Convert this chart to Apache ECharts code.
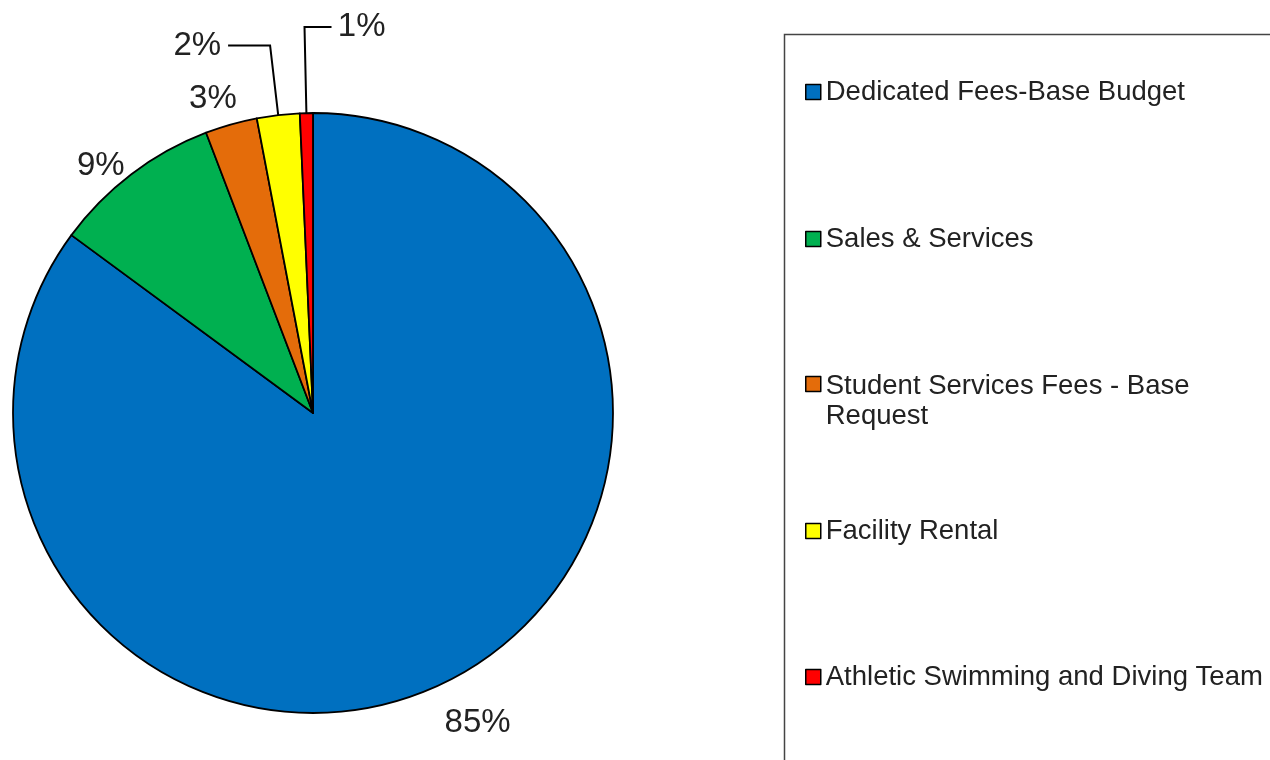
<!DOCTYPE html>
<html>
<head>
<meta charset="utf-8">
<script src="https://cdn.jsdelivr.net/npm/echarts@6/dist/echarts.min.js"></script>
<style>
  html, body { margin: 0; padding: 0; background: #fff; }
  #main { width: 1270px; height: 760px; }
</style>
</head>
<body>
<div id="main"></div>
<script>
// data (share of total budget, %)
const categories = [
  'Dedicated Fees-Base Budget',
  'Sales & Services',
  'Student Services Fees - Base Request',
  'Facility Rental',
  'Athletic Swimming and Diving Team'
];
const values = [85.1, 9.1, 2.8, 2.3, 0.7];
const colors = ['#0070C0', '#00B050', '#E46C0A', '#FFFF00', '#FF0000'];

// label placement per slice (line lengths / text gap)
const labelTweaks = [
  { show: false, length: 47, length2: 0, gap: -25 },
  { show: false, length: 11, length2: 0, gap: 0 },
  { show: false, length: 27, length2: 0, gap: -13 },
  { show: true, length: 70, length2: 42, gap: 7 },
  { show: true, length: 86, length2: -27, gap: -54 }
];

// legend rows (vertical centre of the first text line)
const legendRows = [92, 239, 384, 531, 677];

const font = 'Arial, "Liberation Sans", sans-serif';
const legendFontSize = 27.5;

const chart = echarts.init(document.getElementById('main'));

const pieData = categories.map((name, i) => ({
  name: name,
  value: values[i],
  itemStyle: { color: colors[i] },
  label: { distanceToLabelLine: labelTweaks[i].gap },
  labelLine: {
    show: labelTweaks[i].show,
    length: labelTweaks[i].length,
    length2: labelTweaks[i].length2
  }
}));

const legends = categories.map((name, i) => {
  const twoLines = i === 2;
  return {
    data: [name],
    orient: 'vertical',
    left: 805,
    top: twoLines ? legendRows[i] - 48 : legendRows[i] - 16,
    padding: 0,
    itemWidth: 15,
    itemHeight: 15,
    itemGap: 0,
    icon: 'rect',
    selectedMode: false,
    itemStyle: { borderColor: '#000', borderWidth: 1.5 },
    // wrap the long name after "Base", icon stays on the first line
    formatter: twoLines
      ? n => '{a|Student Services Fees - Base}\n{b|Request}'
      : n => n,
    textStyle: {
      fontFamily: font,
      fontSize: legendFontSize,
      color: '#222',
      lineHeight: 32,
      rich: {
        a: { fontFamily: font, fontSize: legendFontSize, color: '#222', lineHeight: 64, verticalAlign: 'bottom' },
        b: { fontFamily: font, fontSize: legendFontSize, color: '#222', lineHeight: 32 }
      }
    }
  };
});

chart.setOption({
  animation: false,
  backgroundColor: '#fff',
  legend: legends,
  graphic: [{
    type: 'rect',
    left: 782,
    top: 32,
    z: -1,
    shape: { width: 600, height: 800 },
    style: { fill: 'none', stroke: '#444', lineWidth: 1.5 }
  }],
  series: [{
    type: 'pie',
    center: [313, 413],
    radius: 300,
    startAngle: 90,
    clockwise: true,
    avoidLabelOverlap: false,
    data: pieData,
    itemStyle: { borderColor: '#000', borderWidth: 1.8 },
    label: {
      show: true,
      position: 'outside',
      fontFamily: font,
      fontSize: 33,
      color: '#222',
      formatter: p => Math.round(p.percent) + '%'
    },
    labelLine: {
      lineStyle: { color: '#000', width: 2 },
      minTurnAngle: 0,
      maxSurfaceAngle: 180,
      smooth: false
    },
    emphasis: { disabled: true }
  }]
});
</script>
</body>
</html>
